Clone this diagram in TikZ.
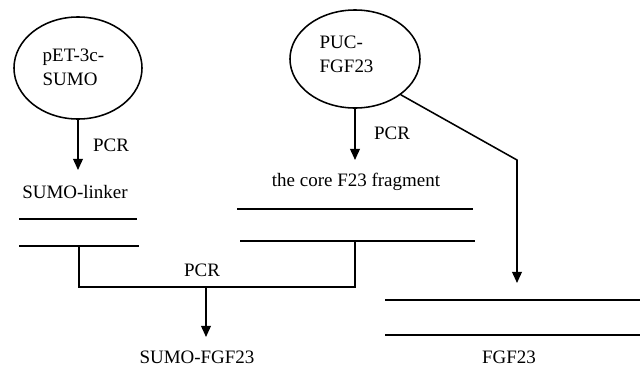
\documentclass[tikz,border=0pt]{standalone}
\usepackage{fontspec}
\setmainfont{Liberation Serif}
\usetikzlibrary{arrows.meta,shapes.geometric}

\begin{document}
\begin{tikzpicture}[
    x=0.025cm, y=-0.025cm,
    font=\fontsize{13.5}{17}\selectfont,
    plasmid/.style={draw, ellipse, line width=1.1pt},
    lbl/.style={inner sep=1pt},
    strand/.style={line width=1.4pt},
    arr/.style={line width=1.1pt, -{Triangle[width=7pt,length=8pt]}},
]
\useasboundingbox (0,0) rectangle (640,389);

% Plasmids
\node[plasmid, minimum width=3.2cm, minimum height=2.55cm] (pet) at (78,68) {};
\node[lbl, anchor=west, align=left] (petlbl) at (41,67) {pET-3c-\\SUMO};
\node[plasmid, minimum width=3.25cm, minimum height=2.45cm] (puc) at (355,59) {};
\node[lbl, anchor=west, align=left] (puclbl) at (318,54) {PUC-\\FGF23};

% First PCR steps
\coordinate (pettip) at (78,170);
\draw[arr] (pet.south) -- (pettip);
\node[lbl] (pcra) at (111,145) {PCR};
\node[lbl] (linker) at (75,192) {SUMO-linker};

\coordinate (puctip) at (355,160);
\draw[arr] (puc.south) -- (puctip);
\node[lbl] (pcrb) at (392,133) {PCR};
\node[lbl] (core) at (356,182) {the core F23 fragment};

% Strands
\draw[strand] (19,219) -- (137,219);
\draw[strand] (19,246) -- (139,246);
\draw[strand] (237,209) -- (473,209);
\draw[strand] (240,241) -- (475,241);
\draw[strand] (385,300) -- (640,300);
\draw[strand] (385,335) -- (640,335);

% Joining PCR
\coordinate (ja) at (79,246);
\coordinate (jb) at (355,241);
\coordinate (jm) at (206,287);
\draw[line width=1.1pt] (ja) |- (jm) -| (jb);
\node[lbl] (pcrc) at (202,270) {PCR};
\coordinate (fustip) at (206,337);
\draw[arr] (jm) -- (fustip);
\node[lbl] (fusion) at (197,357) {SUMO-FGF23};

% Direct route
\coordinate (bend) at (517,160);
\coordinate (fgftip) at (517,283);
\draw[arr] (puc.-38) -- (bend) -- (fgftip);
\node[lbl] (fgf) at (509,357) {FGF23};

\end{tikzpicture}
\end{document}
